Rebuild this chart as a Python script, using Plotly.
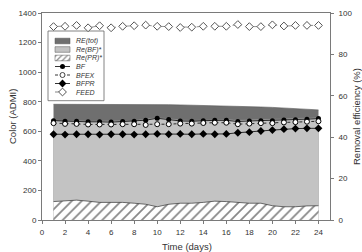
import plotly.graph_objects as go

days = list(range(1, 25))
# Removal efficiencies (%) - right axis
RE_tot = [55.9, 55.9, 56.0, 55.9, 55.8, 55.8, 55.9, 55.8, 55.8, 55.8, 55.7, 55.6,
          55.5, 55.4, 55.2, 55.0, 55.0, 54.8, 54.6, 54.4, 54.1, 53.8, 53.5, 53.2]
Re_BF = [48.2, 48.0, 48.0, 47.8, 47.8, 47.7, 47.9, 48.1, 48.6, 49.4, 49.0, 48.3,
         48.1, 48.3, 48.5, 48.5, 48.2, 48.5, 48.6, 48.7, 48.9, 49.0, 49.2, 49.4]
Re_PR = [8.9, 9.1, 9.6, 9.1, 8.5, 8.5, 8.5, 8.1, 7.6, 6.4, 7.6, 8.1,
         8.1, 8.5, 9.1, 8.9, 8.5, 8.1, 8.1, 6.9, 6.4, 6.4, 6.8, 6.9]
# Colour (ADMI) - left axis
FEED = [1308, 1310, 1316, 1300, 1314, 1300, 1310, 1314, 1318, 1310, 1308, 1302,
        1304, 1310, 1310, 1310, 1322, 1308, 1308, 1320, 1312, 1316, 1316, 1316]
BF = [672, 668, 668, 664, 664, 662, 666, 668, 675, 688, 680, 670,
      668, 672, 674, 674, 666, 670, 672, 672, 676, 678, 682, 686]
BFEX = [655, 650, 650, 646, 646, 646, 648, 648, 643, 648, 648, 652,
        652, 656, 658, 658, 648, 652, 655, 655, 660, 662, 665, 668]
BFPR = [580, 578, 580, 580, 578, 580, 580, 578, 580, 582, 580, 582,
        580, 582, 580, 582, 590, 594, 602, 608, 614, 618, 620, 620]

legend_labels = ["RE(tot)", "Re(BF)*", "Re(PR)*", "BF", "BFEX", "BFPR", "FEED"]
x_title = "Time (days)"
y_left_title = "Color (ADMI)"
y_right_title = "Removal efficiency (%)"

W, H = 362, 252
L, R, T, B = 42, 32, 13, 32
PW, PH = W - L - R, H - T - B

def px(x):
    return (x - L) / PW

def py(y):
    return (H - B - y) / PH

DARK = "#6f6f6f"
LIGHT = "#c3c3c3"
AX = "#7a7a7a"
TXT = "#333333"
FONT = "Liberation Sans, Arial, sans-serif"

fig = go.Figure()

# areas (right axis, base subplot)
fig.add_trace(go.Scatter(x=days, y=RE_tot, fill="tozeroy", mode="lines",
                         line=dict(color="#555555", width=0.6), fillcolor=DARK,
                         xaxis="x", yaxis="y", showlegend=False))
fig.add_trace(go.Scatter(x=days, y=Re_BF, fill="tozeroy", mode="lines",
                         line=dict(color="#888888", width=0.6), fillcolor=LIGHT,
                         xaxis="x", yaxis="y", showlegend=False))
fig.add_trace(go.Scatter(x=days, y=Re_PR, fill="tozeroy", mode="lines",
                         line=dict(color="#333333", width=0.7), fillcolor="white",
                         fillpattern=dict(shape="/", fgcolor="#111111", bgcolor="white",
                                          size=7, solidity=0.25),
                         xaxis="x", yaxis="y", showlegend=False))

# lines (left axis, overlay)
fig.add_trace(go.Scatter(x=days, y=FEED, mode="lines+markers",
                         line=dict(color="#777777", width=0.8, dash="dash"),
                         marker=dict(symbol="diamond", size=6, color="white",
                                     line=dict(color="#555555", width=1)),
                         xaxis="x", yaxis="y2", showlegend=False))
fig.add_trace(go.Scatter(x=days, y=BF, mode="lines+markers",
                         line=dict(color="black", width=0.8),
                         marker=dict(symbol="circle", size=5, color="black"),
                         xaxis="x", yaxis="y2", showlegend=False))
fig.add_trace(go.Scatter(x=days, y=BFEX, mode="lines+markers",
                         line=dict(color="black", width=0.8, dash="dot"),
                         marker=dict(symbol="circle", size=5, color="white",
                                     line=dict(color="black", width=1)),
                         xaxis="x", yaxis="y2", showlegend=False))
fig.add_trace(go.Scatter(x=days, y=BFPR, mode="lines+markers",
                         line=dict(color="black", width=0.8),
                         marker=dict(symbol="diamond", size=6, color="black"),
                         xaxis="x", yaxis="y2", showlegend=False))

# manual legend on a hidden overlay axis in paper-like units
sx0, sx1 = px(55), px(70)
sxm = (sx0 + sx1) / 2
rows = [41, 49.5, 58, 66.5, 75, 83.5, 92]
hh = 2.8 / PH
fills = [(DARK, None), (LIGHT, None), ("white", "/")]
for i in range(3):
    yc = py(rows[i])
    kw = {}
    if fills[i][1]:
        kw["fillpattern"] = dict(shape="/", fgcolor="#111111", bgcolor="white", size=4, solidity=0.3)
    fig.add_trace(go.Scatter(x=[sx0, sx1, sx1, sx0, sx0], y=[yc - hh, yc - hh, yc + hh, yc + hh, yc - hh],
                             mode="lines", fill="toself", fillcolor=fills[i][0],
                             line=dict(color="#555555", width=0.5),
                             xaxis="x3", yaxis="y3", showlegend=False, hoverinfo="skip", **kw))
styles = [
    (dict(color="black", width=0.8), dict(symbol="circle", size=5, color="black")),
    (dict(color="black", width=0.8, dash="dot"), dict(symbol="circle", size=5, color="white", line=dict(color="#444", width=1))),
    (dict(color="black", width=0.8), dict(symbol="diamond", size=6, color="black")),
    (dict(color="#666666", width=0.8, dash="dash"), dict(symbol="diamond", size=6, color="white", line=dict(color="#555", width=1))),
]
for j, (ln, mk) in enumerate(styles):
    yc = py(rows[3 + j])
    fig.add_trace(go.Scatter(x=[sx0, sx1], y=[yc, yc], mode="lines", line=ln,
                             xaxis="x3", yaxis="y3", showlegend=False, hoverinfo="skip"))
    fig.add_trace(go.Scatter(x=[sxm], y=[yc], mode="markers", marker=mk,
                             xaxis="x3", yaxis="y3", showlegend=False, hoverinfo="skip"))

annotations = []
for i, lab in enumerate(legend_labels):
    annotations.append(dict(x=px(74), y=py(rows[i]), xref="paper", yref="paper",
                            text=f"<i>{lab}</i>", showarrow=False, xanchor="left",
                            yanchor="middle", font=dict(size=7, color=TXT, family=FONT)))

titlefont = dict(size=9.5, color=TXT, family=FONT)
annotations += [
    dict(x=px(186.5), y=py(246), xref="paper", yref="paper", text=x_title, showarrow=False,
         xanchor="center", yanchor="middle", font=titlefont),
    dict(x=px(12), y=py(117), xref="paper", yref="paper", text=y_left_title, showarrow=False,
         xanchor="center", yanchor="middle", textangle=-90, font=titlefont),
    dict(x=px(356), y=py(117), xref="paper", yref="paper", text=y_right_title, showarrow=False,
         xanchor="center", yanchor="middle", textangle=-90, font=titlefont),
]

shapes = [dict(type="rect", xref="paper", yref="paper", x0=px(48), x1=px(104),
               y0=py(100.7), y1=py(31), line=dict(color="#666666", width=0.8),
               fillcolor="rgba(0,0,0,0)", layer="below")]

tickfont = dict(size=8, color=TXT, family=FONT)

fig.update_layout(
    width=W, height=H,
    margin=dict(l=L, r=R, t=T, b=B),
    paper_bgcolor="white", plot_bgcolor="white",
    showlegend=False,
    xaxis=dict(range=[0, 25], tickvals=list(range(0, 25, 2)), ticks="outside", ticklen=3,
               tickcolor=AX, showline=True, linecolor=AX, linewidth=1, mirror=True,
               showgrid=False, zeroline=False, tickfont=tickfont, ticklabelstandoff=1,
               automargin=False),
    yaxis=dict(range=[0, 100], dtick=20, side="right", ticks="outside", ticklen=3,
               tickcolor=AX, showline=True, linecolor=AX, linewidth=1,
               showgrid=False, zeroline=False, tickfont=tickfont, ticklabelstandoff=3,
               automargin=False),
    yaxis2=dict(range=[0, 1400], dtick=200, side="left", overlaying="y", anchor="x",
                ticks="outside", ticklen=3, tickcolor=AX, showline=True, linecolor=AX,
                linewidth=1, showgrid=False, zeroline=False, tickfont=tickfont,
                automargin=False),
    xaxis3=dict(range=[0, 1], overlaying="x", visible=False, fixedrange=True),
    yaxis3=dict(range=[0, 1], overlaying="y", anchor="x3", visible=False, fixedrange=True),
    annotations=annotations,
    shapes=shapes,
)

fig.write_html("out.html")
